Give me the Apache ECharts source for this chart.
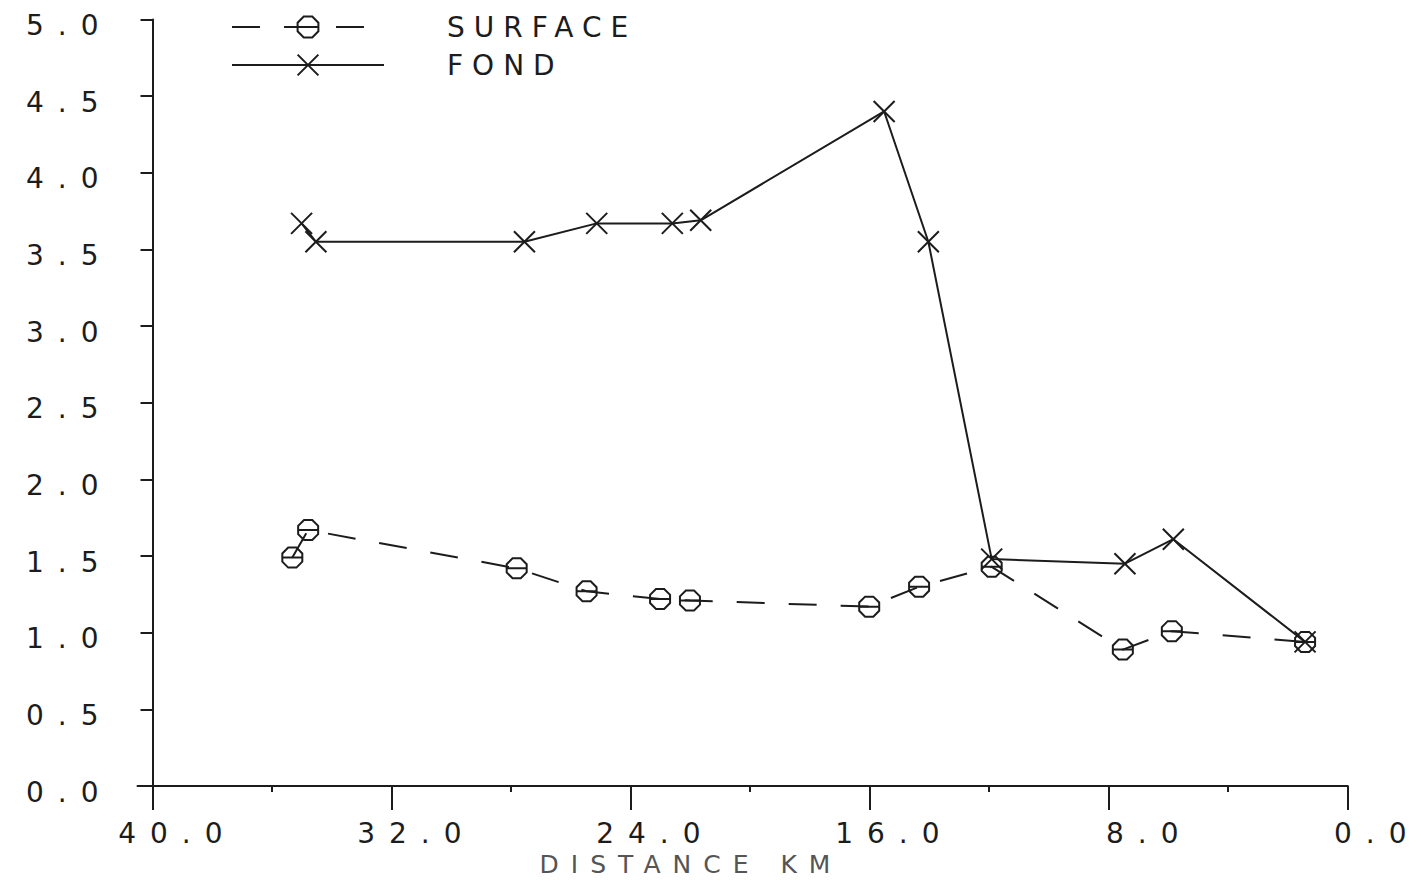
<!DOCTYPE html>
<html>
<head>
<meta charset="utf-8">
<script src="https://cdn.jsdelivr.net/npm/echarts@6/dist/echarts.min.js"></script>
<style>
  html, body { margin: 0; padding: 0; background: #ffffff; }
  #chart { width: 1421px; height: 881px; }
  /* wide plotter-style lettering */
  #chart text { letter-spacing: 9px; }
</style>
</head>
<body>
<div id="chart"></div>
<script>
// Distance (km) of each station and the measured values
const distSurface = [35.32, 34.79, 27.81, 25.47, 23.01, 22.01, 16.01, 14.34, 11.91, 7.52, 5.88, 1.42];
const surface     = [1.49, 1.67, 1.42, 1.27, 1.22, 1.21, 1.17, 1.30, 1.43, 0.89, 1.01, 0.94];

const distFond = [35.01, 34.53, 27.55, 25.13, 22.60, 21.65, 15.51, 14.03, 11.91, 7.45, 5.83, 1.42];
const fond     = [3.67, 3.55, 3.55, 3.67, 3.67, 3.69, 4.40, 3.55, 1.48, 1.45, 1.61, 0.94];

// Axis ticks
const xMinorTicks = [4, 12, 20, 28, 36];
const seriesNames = ['SURFACE', 'FOND'];
const xAxisName = 'DISTANCE KM';

const INK = '#1c1c1c';
const FONT = 'DejaVu Sans';

// Plotter marker shapes: octagon with a bar, and a cross
const THETA = 'path://M-4.1,-10L4.1,-10L10,-4.1L10,4.1L4.1,10L-4.1,10L-10,4.1L-10,-4.1ZM-10,0L10,0';
const CROSS = 'path://M-10,-10L10,10M10,-10L-10,10';

const zip = (xs, ys) => xs.map((x, i) => [x, ys[i]]);

const chart = echarts.init(document.getElementById('chart'), null, { renderer: 'svg' });

const axisLineStyle = { color: INK, width: 2 };
const labelFont = { fontFamily: FONT, fontSize: 28, color: INK };

chart.setOption({
  animation: false,
  backgroundColor: '#ffffff',
  textStyle: { fontFamily: FONT, color: INK },
  grid: [
    { left: 152.5, right: 73.5, top: 19.5, bottom: 95, outerBoundsMode: 'none', containLabel: false },
    // carries the baseline stub left of 40 km and the minor ticks
    { left: 137.5, right: 73.5, top: 19.5, bottom: 95, outerBoundsMode: 'none', containLabel: false }
  ],
  legend: {
    data: seriesNames,
    orient: 'vertical',
    left: 231,
    top: 13,
    padding: 0,
    itemWidth: 152,
    itemHeight: 26,
    itemGap: 10,
    selectedMode: false,
    itemStyle: { borderWidth: 2 },
    textStyle: { fontFamily: FONT, fontSize: 28, color: INK, padding: [0, 0, 0, 58] }
  },
  xAxis: [
    {
      gridIndex: 0,
      type: 'value',
      min: 0,
      max: 40,
      interval: 8,
      inverse: true,
      position: 'bottom',
      axisLine: { show: true, onZero: false, lineStyle: axisLineStyle },
      axisTick: { show: true, length: 24, lineStyle: axisLineStyle },
      axisLabel: {
        // labels sit to the right of their tick; the last one is pulled in to stay on the page
        formatter: v => (v === 0 ? '{e|' : '{r|') + v.toFixed(1) + '}',
        align: 'center',
        margin: 33,
        rich: {
          r: Object.assign({ width: 168, align: 'right' }, labelFont),
          e: Object.assign({ width: 146, align: 'right' }, labelFont)
        }
      },
      splitLine: { show: false },
      name: xAxisName,
      nameLocation: 'middle',
      nameGap: 66,
      nameTextStyle: { fontFamily: FONT, fontSize: 25, lineHeight: 24, color: '#555', padding: [0, 118, 0, 0] }
    },
    {
      gridIndex: 1,
      type: 'value',
      min: 0,
      max: 40.5,
      inverse: true,
      position: 'bottom',
      axisLine: { show: true, onZero: false, lineStyle: axisLineStyle },
      axisTick: { show: true, customValues: xMinorTicks, length: 6, lineStyle: axisLineStyle },
      axisLabel: { show: false },
      splitLine: { show: false }
    }
  ],
  yAxis: [
    {
      gridIndex: 0,
      type: 'value',
      min: 0,
      max: 5,
      interval: 0.5,
      axisLine: { show: true, onZero: false, lineStyle: axisLineStyle },
      axisTick: { show: true, length: 12, lineStyle: axisLineStyle },
      axisLabel: {
        formatter: v => '{v|' + v.toFixed(1) + '}',
        margin: 40,
        rich: { v: Object.assign({ padding: [12, 0, 0, 0] }, labelFont) }
      },
      splitLine: { show: false }
    },
    {
      gridIndex: 1,
      type: 'value',
      min: 0,
      max: 5,
      show: false
    }
  ],
  series: [
    {
      name: seriesNames[0],
      type: 'line',
      xAxisIndex: 0,
      yAxisIndex: 0,
      data: zip(distSurface, surface),
      symbol: THETA,
      symbolSize: 20,
      showAllSymbol: true,
      lineStyle: { color: INK, width: 2, type: [28, 24] },
      itemStyle: { color: 'rgba(0,0,0,0)', borderColor: INK, borderWidth: 2 },
      emphasis: { disabled: true }
    },
    {
      name: seriesNames[1],
      type: 'line',
      xAxisIndex: 0,
      yAxisIndex: 0,
      data: zip(distFond, fond),
      symbol: CROSS,
      symbolSize: 21,
      showAllSymbol: true,
      lineStyle: { color: INK, width: 2 },
      itemStyle: { color: 'rgba(0,0,0,0)', borderColor: INK, borderWidth: 2 },
      emphasis: { disabled: true }
    }
  ]
});

// Numbers are set on a fixed pitch, so they get wider spacing than words
function spaceLetters() {
  document.querySelectorAll('#chart text').forEach(t => {
    const s = t.textContent.trim();
    if (/^[0-9.]+$/.test(s)) t.style.letterSpacing = '14px';
    else if (s === xAxisName) t.style.letterSpacing = '12px';
    else t.style.letterSpacing = '9px';
  });
}
chart.on('finished', spaceLetters);
spaceLetters();
setTimeout(spaceLetters, 50);
</script>
</body>
</html>
